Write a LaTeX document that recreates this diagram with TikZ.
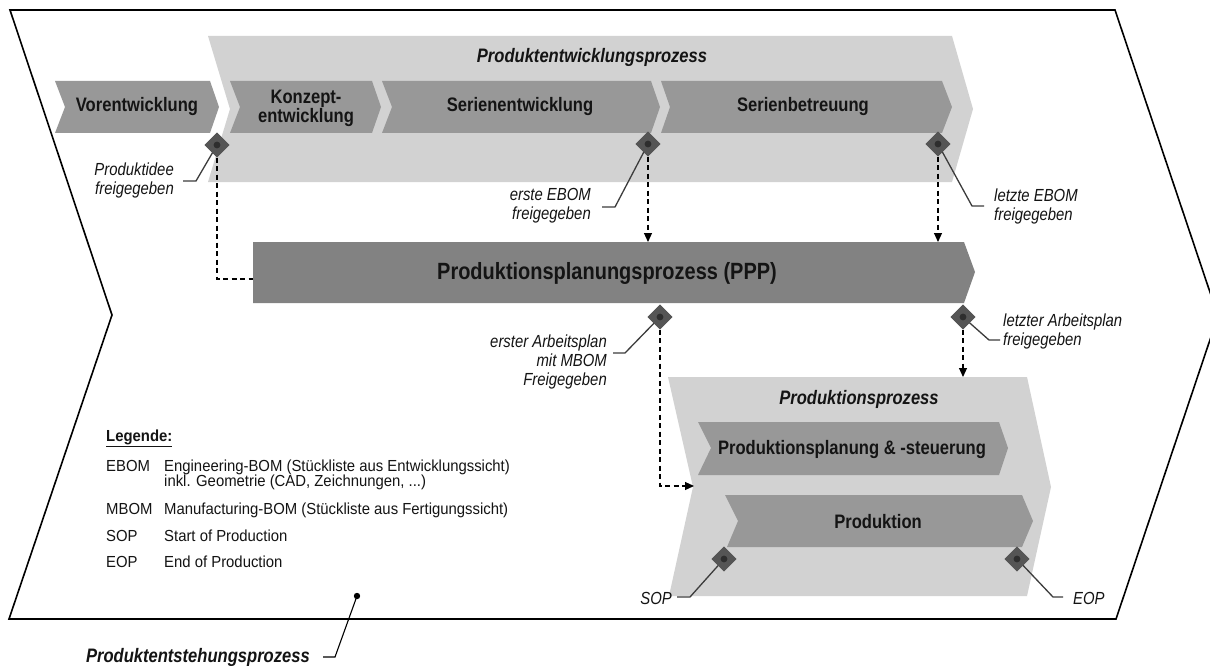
\documentclass[tikz,border=0pt]{standalone}
\usepackage{fontspec}
\setmainfont{Liberation Sans}
\newfontfamily\nar[FakeStretch=0.85]{Liberation Sans}
\newfontfamily\legf[FakeStretch=0.93]{Liberation Sans}
\usetikzlibrary{arrows.meta,shapes.geometric}
\definecolor{boxlight}{HTML}{D2D2D2}
\definecolor{chev}{HTML}{989898}
\definecolor{pppc}{HTML}{828282}
\definecolor{msc}{HTML}{555555}
\definecolor{dotc}{HTML}{2E2E2E}
\definecolor{leadc}{HTML}{3C3C3C}
\definecolor{txt}{HTML}{141414}
\begin{document}
\begin{tikzpicture}[x=1pt,y=-1pt,
  chevtxt/.style={font=\nar\bfseries\fontsize{19.5}{19}\selectfont, text=txt, align=center, inner sep=0},
  ttl/.style={font=\nar\bfseries\itshape\fontsize{19.5}{21}\selectfont, text=txt, inner sep=0},
  lbl/.style={font=\nar\itshape\fontsize{17.5}{19}\selectfont, text=txt, inner sep=0},
  legtxt/.style={font=\legf\fontsize{16}{15}\selectfont, text=txt, inner sep=0, anchor=base west},
  ms/.style={diamond, aspect=1, fill=msc, minimum width=25pt, minimum height=25pt, inner sep=0},
  leader/.style={draw=leadc, line width=1.3pt},
  dashline/.style={draw=black, line width=1.1pt, dash pattern=on 5pt off 3.5pt},
  dasharrow/.style={dashline, -{Triangle[length=9pt,width=8pt]}},
  lightbox/.style={fill=boxlight},
  chevbox/.style={fill=chev},
]
\useasboundingbox (0,0) rectangle (1210,666);
\clip (0,0) rectangle (1210,666);
\fill[white] (0,0) rectangle (1210,666);

% outer shape: Produktentstehungsprozess
\draw[line width=1.6pt, line join=miter] (10,10) -- (1115,10) -- (1218,316) -- (1116,619) -- (9,619) -- (112,315) -- cycle;

% Produktentwicklungsprozess box
\path[lightbox] (208,36) -- (952,36) -- (973,109) -- (952,182) -- (208,182) -- (230,109) -- cycle;

% chevrons top
\path[chevbox] (55,81) -- (210,81) -- (219,107) -- (210,133) -- (55,133) -- (65,107) -- cycle;
\path[chevbox] (230,81) -- (372,81) -- (381,107) -- (372,133) -- (230,133) -- (240,107) -- cycle;
\path[chevbox] (382,81) -- (651,81) -- (660,107) -- (651,133) -- (382,133) -- (392,107) -- cycle;
\path[chevbox] (661,81) -- (942,81) -- (952,107) -- (942,133) -- (661,133) -- (670,107) -- cycle;

% PPP bar
\path[fill=pppc] (253,242) -- (964,242) -- (975,272) -- (964,303) -- (253,303) -- cycle;

% Produktionsprozess box
\path[lightbox] (668,377) -- (1027,377) -- (1051,487) -- (1027,596) -- (669,596) -- (693,487) -- cycle;
\path[chevbox] (698,422) -- (999,422) -- (1008,448) -- (999,475) -- (698,475) -- (711,448) -- cycle;
\path[chevbox] (725,495) -- (1022,495) -- (1033,521) -- (1022,547) -- (727,547) -- (738,521) -- cycle;

% connector end points
\coordinate (pppL) at (253,279);
\coordinate (pppT1) at (648,242);
\coordinate (pppT2) at (938,242);
\coordinate (prodL) at (694,486);
\coordinate (prodT) at (963,377);

% milestones
\node[ms] (m1) at (217,145) {};
\node[ms] (m2) at (648,144) {};
\node[ms] (m3) at (938,144) {};
\node[ms] (m4) at (660,317) {};
\node[ms] (m5) at (963,317) {};
\node[ms] (sop) at (724,559) {};
\node[ms] (eop) at (1017,559) {};

% dashed connectors
\draw[dashline] (m1.south) |- (pppL);
\draw[dasharrow] (m2.south) -- (pppT1);
\draw[dasharrow] (m3.south) -- (pppT2);
\draw[dasharrow] (m4.south) |- (prodL);
\draw[dasharrow] (m5.south) -- (prodT);

% leader end coordinates
\coordinate (l1a) at (196,181); \coordinate (l1b) at (183,181);
\coordinate (l2a) at (615,207); \coordinate (l2b) at (602,207);
\coordinate (l3a) at (972,206); \coordinate (l3b) at (984,206);
\coordinate (l4a) at (625,353); \coordinate (l4b) at (613,353);
\coordinate (l5a) at (989,340); \coordinate (l5b) at (1000,340);
\coordinate (lsa) at (690,597); \coordinate (lsb) at (677,597);
\coordinate (lea) at (1053,597); \coordinate (leb) at (1063,597);

\draw[leader] (m1.center) -- (l1a) -- (l1b);
\draw[leader] (m2.center) -- (l2a) -- (l2b);
\draw[leader] (m3.center) -- (l3a) -- (l3b);
\draw[leader] (m4.center) -- (l4a) -- (l4b);
\draw[leader] (m5.center) -- (l5a) -- (l5b);
\draw[leader] (sop.center) -- (lsa) -- (lsb);
\draw[leader] (eop.center) -- (lea) -- (leb);

% redraw diamonds above leaders
\foreach \m in {m1,m2,m3,m4,m5,sop,eop}{
  \node[ms] at (\m) {};
  \fill[dotc] (\m) circle (3.4pt);
}

% texts in chevrons
\node[ttl] (t-pep) at (592,57) {Produktentwicklungsprozess};
\node[chevtxt] (t-vor) at (137,107) {Vorentwicklung};
\node[chevtxt] (t-kon) at (306,108) {Konzept-\\entwicklung};
\node[chevtxt] (t-ser) at (520,107) {Serienentwicklung};
\node[chevtxt] (t-sbt) at (803,107) {Serienbetreuung};
\node[chevtxt, font=\nar\bfseries\fontsize{23.5}{24}\selectfont] (t-ppp) at (607,273) {Produktionsplanungsprozess (PPP)};
\node[ttl] (t-pp) at (859,399) {Produktionsprozess};
\node[chevtxt] (t-pps) at (852,449) {Produktionsplanung \& -steuerung};
\node[chevtxt] (t-prod) at (878,522) {Produktion};

% milestone labels
\node[lbl, align=right, anchor=east] (n1) at (174,180) {Produktidee\\freigegeben};
\node[lbl, align=right, anchor=east] (n2) at (591,206) {erste EBOM\\freigegeben};
\node[lbl, align=left, anchor=west] (n3) at (994,206) {letzte EBOM\\freigegeben};
\node[lbl, align=right, anchor=east] (n4) at (607,362) {erster Arbeitsplan\\mit MBOM\\Freigegeben};
\node[lbl, align=left, anchor=west] (n5) at (1003,331) {letzter Arbeitsplan\\freigegeben};
\node[lbl, anchor=east] (nsop) at (672,598) {SOP};
\node[lbl, anchor=west] (neop) at (1073,598) {EOP};

% Produktentstehungsprozess label
\coordinate (pe1) at (357,596);
\coordinate (pe2) at (335,657);
\coordinate (pe3) at (323,657);
\fill[black] (pe1) circle (3.2pt);
\draw[leader, draw=black, line width=1.1pt] (pe1) -- (pe2) -- (pe3);
\node[ttl, anchor=east] (t-pent) at (310,657) {Produktentstehungsprozess};

% legend
\node[legtxt, font=\legf\bfseries\fontsize{16}{15}\selectfont] (leg) at (106,441) {\underline{Legende:}};
\node[legtxt] (a1) at (106,471) {EBOM};
\node[legtxt] (d1) at (164,471) {Engineering-BOM (Stückliste aus Entwicklungssicht)};
\node[legtxt] (d1b) at (164,486) {inkl. Geometrie (CAD, Zeichnungen, ...)};
\node[legtxt] (a2) at (106,514) {MBOM};
\node[legtxt] (d2) at (164,514) {Manufacturing-BOM (Stückliste aus Fertigungssicht)};
\node[legtxt] (a3) at (106,541) {SOP};
\node[legtxt] (d3) at (164,541) {Start of Production};
\node[legtxt] (a4) at (106,567) {EOP};
\node[legtxt] (d4) at (164,567) {End of Production};
\end{tikzpicture}
\end{document}
